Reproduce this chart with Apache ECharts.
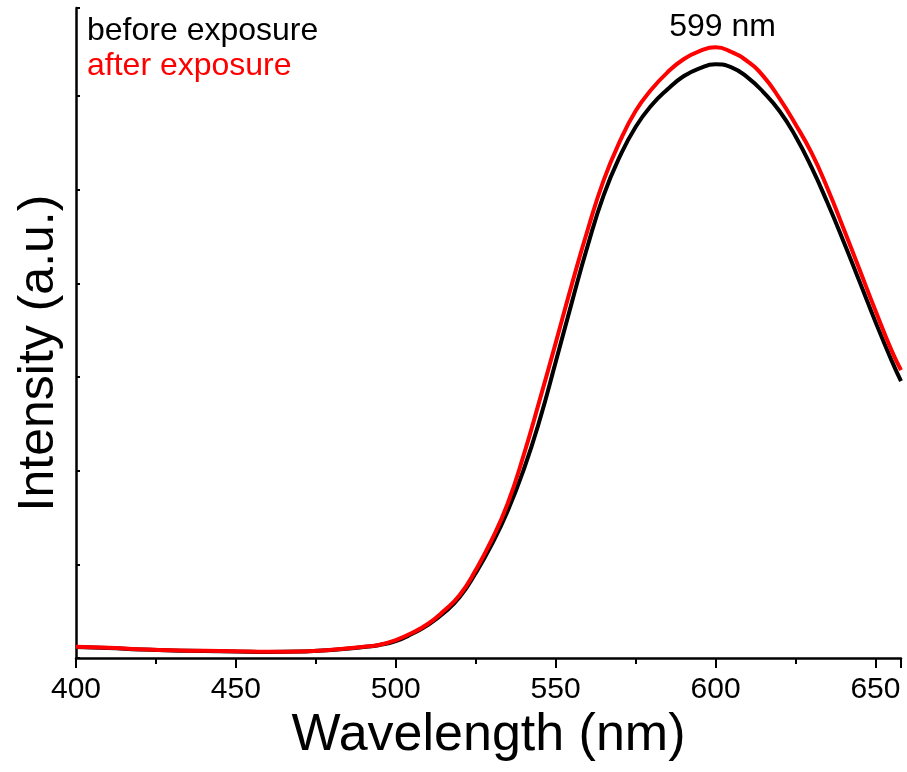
<!DOCTYPE html>
<html>
<head>
<meta charset="utf-8">
<script src="https://cdn.jsdelivr.net/npm/echarts@6/dist/echarts.min.js"></script>
<style>
html,body{margin:0;padding:0;background:#fff;}
#chart{width:907px;height:772px;}
</style>
</head>
<body>
<div id="chart"></div>
<script>
// Wavelength (nm)
var wavelengths = [400,410,420,430,440,450,460,470,480,490,495,500,505,510,515,520,525,530,535,540,545,550,555,560,565,570,575,580,585,590,595,600,605,610,615,620,625,630,635,640,645,650,655,658];
// Intensity (a.u.) before exposure
var beforeExposure = [117,107,91,80,75,69,64,69,85,117,139,181,256,352,480,651,907,1210,1570,2010,2540,3159,3789,4400,4940,5350,5670,5902,6072,6211,6296,6339,6307,6200,6040,5840,5571,5240,4860,4450,4023,3590,3180,2956];
// Intensity (a.u.) after exposure
var afterExposure = [120,110,94,82,77,72,67,70,87,120,142,192,267,363,502,672,939,1260,1650,2166,2753,3362,3981,4570,5100,5510,5840,6072,6254,6393,6480,6520,6470,6370,6210,5975,5699,5395,5016,4589,4150,3710,3287,3073];
var seriesNames = ['before exposure','after exposure'];
var peakLabel = '599 nm';

function pairs(xs, ys){ return xs.map(function(x,i){ return [x, ys[i]]; }); }

var FONT = 'Liberation Sans, Arial, Helvetica, sans-serif';
var chart = echarts.init(document.getElementById('chart'), null, {renderer:'canvas'});
chart.setOption({
  animation:false,
  backgroundColor:'#ffffff',
  textStyle:{fontFamily:FONT},
  grid:{left:76, right:6, top:8, bottom:114, containLabel:false},
  legend:{
    orient:'vertical', left:77, top:10, itemGap:3,
    itemWidth:0, itemHeight:0, icon:'rect',
    textStyle:{fontSize:32, fontFamily:FONT},
    data:[
      {name:seriesNames[0], textStyle:{color:'#000000'}},
      {name:seriesNames[1], textStyle:{color:'#ff0000'}}
    ],
    selectedMode:false
  },
  xAxis:{
    type:'value', min:400, max:658, interval:50,
    name:'Wavelength (nm)', nameLocation:'middle', nameGap:52,
    nameTextStyle:{fontSize:52, color:'#000', fontFamily:FONT},
    axisLine:{show:true, onZero:false, lineStyle:{color:'#000', width:2.5}},
    axisTick:{show:true, inside:false, length:10, lineStyle:{color:'#000', width:2}},
    minorTick:{show:true, splitNumber:2, length:6, lineStyle:{color:'#000', width:2}},
    axisLabel:{fontSize:30, color:'#000', margin:17, fontFamily:FONT, showMaxLabel:false},
    splitLine:{show:false}
  },
  yAxis:{
    type:'value', min:0, max:6940, interval:1000,
    name:'Intensity (a.u.)', nameLocation:'middle', nameGap:12,
    nameTextStyle:{fontSize:50, color:'#000', fontFamily:FONT, padding:[0,40,0,0]},
    axisLine:{show:true, lineStyle:{color:'#000', width:2.5}},
    axisTick:{show:true, inside:true, length:4, lineStyle:{color:'#000', width:2}},
    axisLabel:{show:false},
    splitLine:{show:false}
  },
  series:[
    {
      name:seriesNames[0], type:'line', data:pairs(wavelengths, beforeExposure),
      showSymbol:false, smooth:0.5, color:'#000000',
      lineStyle:{color:'#000000', width:4}, z:2
    },
    {
      name:seriesNames[1], type:'line', data:pairs(wavelengths, afterExposure),
      showSymbol:false, smooth:0.5, color:'#ff0000',
      lineStyle:{color:'#ff0000', width:4}, z:3,
      markPoint:{
        symbol:'circle', symbolSize:0,
        label:{show:true, position:'top', distance:4, offset:[7,0], formatter:peakLabel,
               fontSize:32, color:'#000', fontFamily:FONT},
        data:[{type:'max'}]
      }
    }
  ]
});
</script>
</body>
</html>
